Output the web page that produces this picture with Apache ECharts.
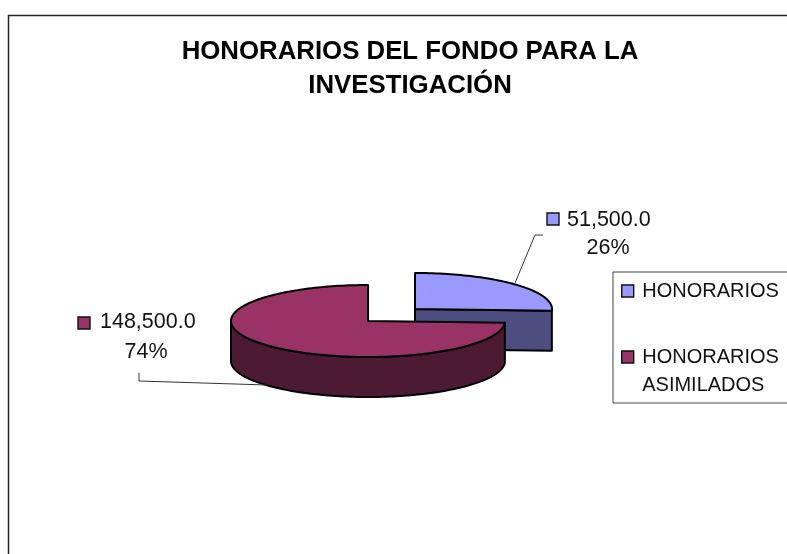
<!DOCTYPE html>
<html>
<head>
<meta charset="utf-8">
<style>html,body{margin:0;padding:0;background:#fff;overflow:hidden}#c{width:787px;height:554px}</style>
<script src="https://cdn.jsdelivr.net/npm/echarts@6/dist/echarts.min.js"></script>
</head>
<body>
<div id="c"></div>
<script>
var titleText = 'HONORARIOS DEL FONDO PARA LA\nINVESTIGACIÓN';
var sliceNames = ['HONORARIOS', 'HONORARIOS\nASIMILADOS'];
var sliceValues = [51500, 148500];
var valueLabels = ['51,500.0', '148,500.0'];
var percentLabels = ['26%', '74%'];
var topColors = ['#9999FF', '#993366'];
var sideColors = ['#4D4D80', '#4D1A33'];

var FONT = '"Liberation Sans", Arial, sans-serif';
var total = sliceValues.reduce(function (a, b) { return a + b; }, 0);
var RX = 137, RY = 36, DEPTH = 40;
var centers = [[415, 309], [368, 321]];
var labelGeom = [
  { swatch: [547, 213], text: [567, 220], pct: [608, 248], line: [[515, 283], [535, 235], [543, 235]] },
  { swatch: [78, 317], text: [100, 322], pct: [146, 352], line: [[139, 373], [139, 381], [267, 385]] }
];

function startAngle(i) {
  var s = 0;
  for (var k = 0; k < i; k++) s += sliceValues[k];
  return s / total * 2 * Math.PI;
}
function pt(c, a, dy) {
  return [c[0] + RX * Math.sin(a), c[1] - RY * Math.cos(a) + (dy || 0)];
}
function sliceRender(i) {
  return function () {
    var c = centers[i];
    var a0 = startAngle(i), a1 = a0 + sliceValues[i] / total * 2 * Math.PI;
    var STEP = Math.PI / 120, pts = [c.slice()], a;
    for (a = a0; a < a1; a += STEP) pts.push(pt(c, a));
    pts.push(pt(c, a1));
    var children = [];
    var line = { stroke: '#000', lineWidth: 2, lineJoin: 'round' };

    if (i === 0) {
      var end = pt(c, a1);
      children.push({ type: 'polygon', shape: { points: [c, end, [end[0], end[1] + DEPTH], [c[0], c[1] + DEPTH]] },
        style: Object.assign({ fill: sideColors[i] }, line) });
    } else {
      var w = [], from = Math.max(a0, Math.PI / 2), to = Math.min(a1, 3 * Math.PI / 2);
      for (a = from; a < to; a += STEP) w.push(pt(c, a));
      w.push(pt(c, to));
      var back = [];
      for (a = to; a > from; a -= STEP) back.push(pt(c, a, DEPTH));
      back.push(pt(c, from, DEPTH));
      children.push({ type: 'polygon', shape: { points: w.concat(back) },
        style: Object.assign({ fill: sideColors[i] }, line) });
    }
    children.push({ type: 'polygon', shape: { points: pts },
      style: Object.assign({ fill: topColors[i] }, line) });

    var g = labelGeom[i];
    children.push({ type: 'polyline', shape: { points: g.line },
      style: { stroke: '#333', lineWidth: 1, fill: 'none' } });
    children.push({ type: 'rect', shape: { x: g.swatch[0], y: g.swatch[1], width: 12, height: 12 },
      style: { fill: topColors[i], stroke: '#111', lineWidth: 1.4 } });
    children.push({ type: 'text', x: g.text[0], y: g.text[1],
      style: { text: valueLabels[i], font: '21.5px ' + FONT, fill: '#111', align: 'left', verticalAlign: 'middle' } });
    children.push({ type: 'text', x: g.pct[0], y: g.pct[1],
      style: { text: percentLabels[i], font: '21.5px ' + FONT, fill: '#111', align: 'center', verticalAlign: 'middle' } });
    return { type: 'group', children: children };
  };
}

var chart = echarts.init(document.getElementById('c'), null, { renderer: 'canvas' });
chart.setOption({
  animation: false,
  backgroundColor: '#fff',
  title: {
    text: titleText, left: 405, top: 30, textAlign: 'center',
    textStyle: { fontFamily: FONT, fontWeight: 'bold', fontSize: 25.8, lineHeight: 34, color: '#000' }
  },
  legend: {
    orient: 'vertical', left: 613, top: 272, selectedMode: false,
    itemWidth: 19, itemHeight: 12, itemGap: 10, padding: [5, 20, 4, 8],
    borderColor: '#444', borderWidth: 1, backgroundColor: '#fff',
    textStyle: { fontFamily: FONT, fontSize: 20, lineHeight: 28, color: '#111' },
    formatter: function (n) { return n.indexOf('\n') >= 0 ? '\n' + n : n; },
    data: sliceNames.map(function (n, i) {
      return { name: n, icon: 'path://M0,0H100V100H0Z',
        itemStyle: { color: topColors[i], borderColor: '#111', borderWidth: 1.4 } };
    })
  },
  graphic: [{
    type: 'polyline', silent: true,
    shape: { points: [[8.5, 560], [8.5, 15.5], [800, 15.5]] },
    style: { stroke: '#222', lineWidth: 1.5, fill: 'none' }
  }],
  series: sliceNames.map(function (n, i) {
    return {
      type: 'custom', name: n, coordinateSystem: 'none', silent: true,
      itemStyle: { color: topColors[i] },
      data: [sliceValues[i]],
      renderItem: sliceRender(i)
    };
  })
});
</script>
</body>
</html>
